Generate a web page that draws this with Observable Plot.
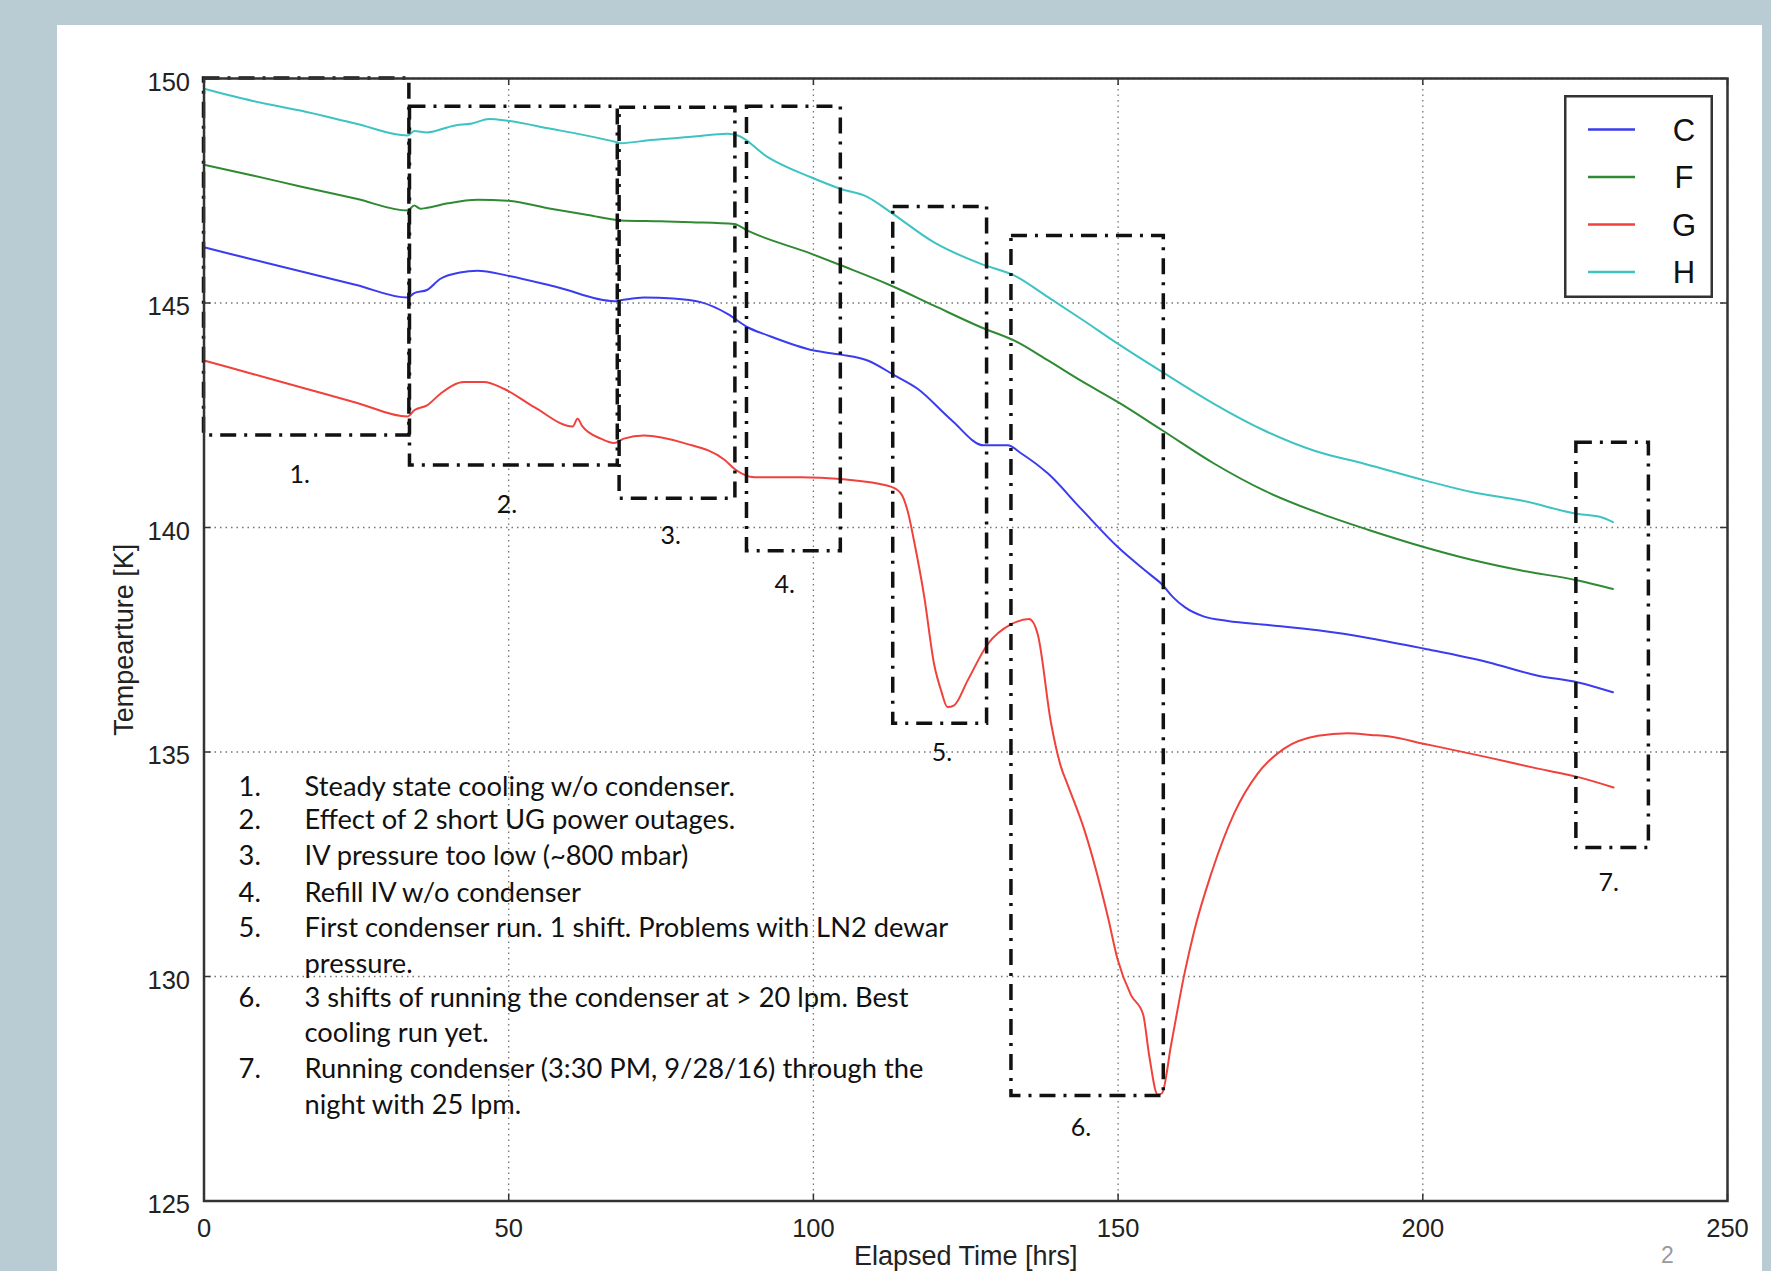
<!DOCTYPE html>
<html><head><meta charset="utf-8">
<script src="https://cdn.jsdelivr.net/npm/d3@7"></script>
<script src="https://cdn.jsdelivr.net/npm/@observablehq/plot@0.6"></script>
<style>
html,body{margin:0;padding:0;width:1771px;height:1271px;overflow:hidden;background:#b9ccd4;}
#slide{position:absolute;left:57px;top:25px;width:1705px;height:1246px;background:#fff;}
#chart{position:absolute;left:0;top:0;}
#legend{position:absolute;left:1564px;top:95px;}
#page{position:absolute;left:1661px;top:1242px;font:23px 'Liberation Sans',Arial,sans-serif;color:#9a9a9a;}
</style></head><body>
<div id="slide"></div><div id="chart"></div><div id="legend"></div><div id="page">2</div>
<script>
// ---------- data ----------
const seriesNames = ["C", "F", "G", "H"];
const seriesColors = ["#3b3bef", "#2f8a33", "#f0423c", "#3ec3c3"];

const hoursC = [0, 8, 16, 25, 33.4, 34.5, 36.6, 38.8, 42, 44.9, 49.8, 58, 67.3, 68.4, 72.2, 77, 81.5, 85.9, 89.2, 92.5, 100.1, 104.5, 108.9, 113.3, 117.1, 122.6, 128, 131.9, 134, 138.5, 143.9, 150, 155, 157.3, 159, 161, 164, 168, 174.6, 182.8, 191.5, 200.3, 210.7, 218.9, 225.5, 231.2];
const tempC  = [146.24, 145.97, 145.70, 145.40, 145.12, 145.22, 145.29, 145.54, 145.68, 145.72, 145.61, 145.35, 145.04, 145.06, 145.12, 145.10, 145.02, 144.76, 144.46, 144.28, 143.94, 143.85, 143.72, 143.39, 143.09, 142.40, 141.83, 141.83, 141.66, 141.20, 140.42, 139.56, 138.98, 138.72, 138.45, 138.22, 138.02, 137.92, 137.83, 137.71, 137.53, 137.30, 137.00, 136.70, 136.55, 136.33];

const hoursF = [0, 8, 16, 25, 33.4, 34.5, 35.5, 36.6, 40, 44.9, 49.8, 56.9, 63, 68.4, 75, 80, 87, 89.2, 99.6, 104.5, 112.7, 119.8, 127.5, 133, 138.5, 143.9, 150, 157.3, 165.8, 174, 182.8, 191, 200.3, 208, 216.2, 225.5, 231.2];
const tempF  = [148.08, 147.84, 147.59, 147.32, 147.06, 147.17, 147.10, 147.12, 147.22, 147.30, 147.28, 147.10, 146.96, 146.84, 146.82, 146.80, 146.76, 146.61, 146.10, 145.84, 145.39, 144.94, 144.46, 144.16, 143.72, 143.27, 142.79, 142.16, 141.42, 140.82, 140.33, 139.95, 139.56, 139.28, 139.04, 138.82, 138.63];

const hoursG = [0, 8, 16, 25, 33.4, 34.5, 36.6, 38.8, 42.7, 45.9, 49.2, 54.2, 60.5, 61.3, 62.1, 65.1, 67.3, 68.9, 72.2, 78.8, 85.4, 87.3, 90.3, 97.9, 104.5, 112.7, 114.4, 115.5, 116.5, 118.2, 119.8, 121, 122, 123.1, 125.3, 128.6, 132.4, 135.4, 136.8, 139, 140.6, 141.7, 144.5, 148.3, 149.9, 152.1, 154.1, 155.1, 156.5, 157.2, 158.7, 160.9, 162.5, 165.3, 169.1, 172.9, 177.3, 182.8, 187.7, 191.5, 194.3, 200.3, 210.7, 218.9, 225.5, 231.3];
const tempG  = [143.72, 143.42, 143.12, 142.78, 142.47, 142.61, 142.72, 142.98, 143.24, 143.24, 143.09, 142.68, 142.25, 142.42, 142.25, 141.98, 141.88, 141.98, 142.05, 141.88, 141.51, 141.28, 141.12, 141.12, 141.08, 140.91, 140.75, 140.35, 139.71, 138.45, 136.96, 136.35, 136.00, 136.04, 136.59, 137.40, 137.84, 137.96, 137.63, 135.64, 134.68, 134.28, 133.25, 131.34, 130.39, 129.59, 129.16, 128.24, 127.37, 127.40, 128.48, 130.07, 131.02, 132.30, 133.65, 134.52, 135.08, 135.36, 135.42, 135.38, 135.35, 135.18, 134.88, 134.63, 134.44, 134.21];

const hoursH = [0, 8, 16, 25, 33.4, 34.5, 36.6, 41, 44, 46.8, 49.8, 56.9, 62, 67.8, 68.4, 73.3, 80, 85.9, 87.6, 92.5, 99.6, 104.5, 108.9, 112.7, 119.8, 127.5, 133, 138.5, 143.9, 150, 157.3, 165.8, 174, 182.2, 190.4, 200.3, 208, 216.2, 225.5, 229.3, 231.2];
const tempH  = [149.77, 149.50, 149.28, 148.99, 148.73, 148.83, 148.80, 148.95, 149.00, 149.10, 149.06, 148.88, 148.75, 148.58, 148.56, 148.63, 148.70, 148.77, 148.73, 148.25, 147.80, 147.54, 147.36, 147.02, 146.35, 145.87, 145.61, 145.13, 144.65, 144.09, 143.46, 142.75, 142.16, 141.71, 141.42, 141.05, 140.79, 140.60, 140.30, 140.23, 140.12];

// annotated regions (hours / kelvin)
const boxNames = ["1.", "2.", "3.", "4.", "5.", "6.", "7."];
const boxStart = [0, 33.8, 68.2, 89.1, 113.1, 132.5, 225.2];
const boxEnd   = [33.7, 67.9, 87.2, 104.5, 128.5, 157.5, 237.1];
const boxLow   = [142.05, 141.38, 140.64, 139.47, 135.63, 127.34, 132.86];
const boxHigh  = [150, 149.37, 149.35, 149.37, 147.14, 146.49, 141.89];
const boxLabelX = [15.7, 49.7, 76.6, 95.3, 121.1, 143.9, 230.5];
const boxLabelY = [141.18, 140.49, 139.82, 138.71, 134.97, 126.62, 132.08];

const noteNumbers = ["1.", "2.", "3.", "4.", "5.", "", "6.", "", "7.", ""];
const noteTexts = [
  "Steady state cooling w/o condenser.",
  "Effect of 2 short UG power outages.",
  "IV pressure too low (~800 mbar)",
  "Refill IV w/o condenser",
  "First condenser run. 1 shift. Problems with LN2 dewar",
  "pressure.",
  "3 shifts of running the condenser at > 20 lpm. Best",
  "cooling run yet.",
  "Running condenser (3:30 PM, 9/28/16) through the",
  "night with 25 lpm."
];
const noteLineY = [134.21, 133.47, 132.68, 131.85, 131.07, 130.27, 129.51, 128.73, 127.93, 127.13];

const xTicks = [0, 50, 100, 150, 200, 250];
const yTicks = [125, 130, 135, 140, 145, 150];
const xLabel = "Elapsed Time [hrs]";
const yLabel = "Tempearture [K]";

// ---------- build tables ----------
const seriesHours = [hoursC, hoursF, hoursG, hoursH];
const seriesTemps = [tempC, tempF, tempG, tempH];
const rows = seriesNames.flatMap((s, i) => seriesHours[i].map((h, j) => ({series: s, hour: h, temp: seriesTemps[i][j]})));
const boxes = boxNames.map((n, i) => ({name: n, x1: boxStart[i], x2: boxEnd[i], y1: boxLow[i], y2: boxHigh[i], lx: boxLabelX[i], ly: boxLabelY[i]}));
const notes = noteTexts.map((t, i) => ({num: noteNumbers[i], text: t, y: noteLineY[i]}));

const W = 1771, H = 1271;
const mL = 203.5, mR = 44, mT = 78, mB = 70.5;
const innerW = W - mL - mR, innerH = H - mT - mB;
const calibri = "Lato, 'Open Sans', sans-serif";
const tickInset = 7;

const chart = Plot.plot({
  width: W, height: H,
  marginLeft: mL, marginRight: mR, marginTop: mT, marginBottom: mB,
  style: {background: "transparent", fontFamily: "'Liberation Sans', Arial, sans-serif", fontSize: "25.5px", color: "#222", overflow: "visible"},
  x: {domain: [0, 250]},
  y: {domain: [125, 150]},
  color: {domain: seriesNames, range: seriesColors},
  marks: [
    Plot.gridX(xTicks, {stroke: "#666", strokeOpacity: 0.9, strokeWidth: 1.3, strokeDasharray: "1.5,4"}),
    Plot.gridY(yTicks, {stroke: "#666", strokeOpacity: 0.9, strokeWidth: 1.3, strokeDasharray: "1.5,4"}),
    Plot.tickY(yTicks, {y: d => d, insetRight: innerW - tickInset, stroke: "#333", strokeWidth: 1.5}),
    Plot.tickY(yTicks, {y: d => d, insetLeft: innerW - tickInset, stroke: "#333", strokeWidth: 1.5}),
    Plot.tickX(xTicks, {x: d => d, insetTop: innerH - tickInset, stroke: "#333", strokeWidth: 1.5}),
    Plot.tickX(xTicks, {x: d => d, insetBottom: innerH - tickInset, stroke: "#333", strokeWidth: 1.5}),
    Plot.text(notes, {x: 5.67, y: "y", text: "num", textAnchor: "start", fontFamily: calibri, fontSize: 27.3, fill: "#111"}),
    Plot.text(notes, {x: 16.5, y: "y", text: "text", textAnchor: "start", fontFamily: calibri, fontSize: 27.3, fill: "#111"}),
    Plot.line(rows, {x: "hour", y: "temp", z: "series", stroke: "series", strokeWidth: 2, curve: "monotone-x"}),
    Plot.rect(boxes, {x1: "x1", x2: "x2", y1: "y1", y2: "y2", fill: "none", stroke: "#111", strokeWidth: 3.5, strokeDasharray: "16,8,3,8"}),
    Plot.text(boxes, {x: "lx", y: "ly", text: "name", fontFamily: calibri, fontSize: 25, fill: "#111"}),
    Plot.frame({stroke: "#333", strokeWidth: 2.5}),
    Plot.axisX({ticks: xTicks, tickSize: 0, tickPadding: 18, label: null, fontSize: 25.5}),
    Plot.axisY({ticks: yTicks, tickSize: 0, tickPadding: 14, label: null, fontSize: 25.5, dy: 4}),
    Plot.text([xLabel], {frameAnchor: "bottom", dy: 55, text: d => d, fontSize: 27, textAnchor: "middle", lineAnchor: "middle"}),
    Plot.text([yLabel], {frameAnchor: "left", dx: -80, text: d => d, fontSize: 27, rotate: -90, textAnchor: "middle", lineAnchor: "middle"})
  ]
});
document.getElementById("chart").appendChild(chart);

// ---------- legend ----------
const lw = 149, lh = 203;
const lsvg = d3.select("#legend").append("svg").attr("width", lw).attr("height", lh);
lsvg.append("rect").attr("x", 1.25).attr("y", 1.25).attr("width", lw - 2.5).attr("height", lh - 2.5)
  .attr("fill", "#fff").attr("stroke", "#333").attr("stroke-width", 2.5);
const rowY = d3.scalePoint().domain(seriesNames).range([34.5, 177]);
seriesNames.forEach((s, i) => {
  lsvg.append("line").attr("x1", 24).attr("x2", 71).attr("y1", rowY(s)).attr("y2", rowY(s))
    .attr("stroke", seriesColors[i]).attr("stroke-width", 2.5);
  lsvg.append("text").attr("x", 120).attr("y", rowY(s)).attr("dy", "0.36em").attr("text-anchor", "middle")
    .attr("font-family", "'Liberation Sans', Arial, sans-serif").attr("font-size", 31).attr("fill", "#111").text(s);
});
</script>
</body></html>
